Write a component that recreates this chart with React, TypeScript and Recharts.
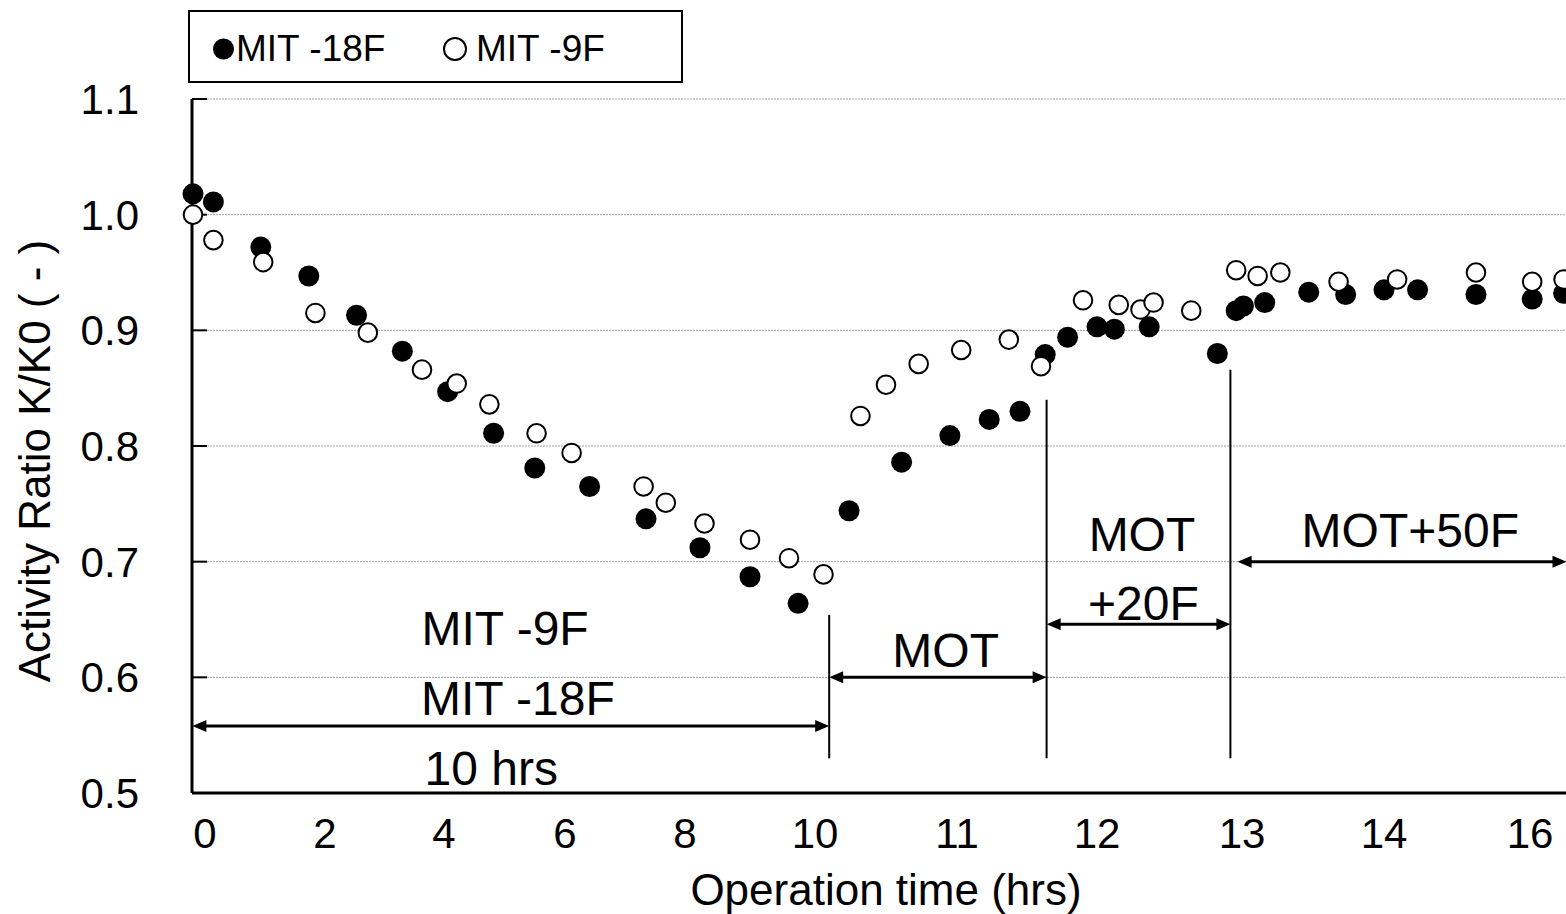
import React from "react"
import {
  ScatterChart,
  Scatter,
  XAxis,
  YAxis,
  CartesianGrid,
  Legend,
  ReferenceLine,
  ReferenceDot,
} from "recharts"

const FONT = '"Liberation Sans", Arial, Helvetica, sans-serif'

// the time axis of the original is not linear: hours at each labelled tick,
// and where that tick sits along the axis (axis units, 0 = left edge)
const TICK_HOURS = [0, 2, 4, 6, 8, 10, 11, 12, 13, 14, 16]
const TICK_SLOTS = [13, 133, 252, 373, 493, 623, 765, 905, 1050, 1192, 1338]
const AXIS_END = 1374

const Y_TICKS = [0.5, 0.6, 0.7, 0.8, 0.9, 1.0, 1.1]

// MIT -18F (filled)
const MIT18_HOURS = [
  -0.2, 0.14, 0.93, 1.73, 2.53, 3.3, 4.06, 4.82, 5.5, 6.41, 7.35, 8.23, 9.0, 9.74,
  10.24, 10.61, 10.95, 11.23, 11.45, 11.63, 11.79, 12.0, 12.12, 12.36, 12.83, 12.96,
  13.01, 13.16, 13.47, 13.73, 14.0, 14.46, 15.26, 16.03, 16.46,
]
const MIT18_RATIO = [
  1.018, 1.011, 0.972, 0.947, 0.913, 0.882, 0.847, 0.811, 0.781, 0.765, 0.737, 0.712,
  0.687, 0.664, 0.744, 0.786, 0.809, 0.823, 0.83, 0.879, 0.894, 0.903, 0.901, 0.903,
  0.88, 0.917, 0.921, 0.924, 0.933, 0.931, 0.935, 0.935, 0.931, 0.927, 0.932,
]

// MIT -9F (open)
const MIT9_HOURS = [
  -0.2, 0.14, 0.97, 1.84, 2.72, 3.63, 4.21, 4.75, 5.53, 6.11, 7.31, 7.68, 8.3, 9.0,
  9.6, 10.06, 10.32, 10.5, 10.73, 11.03, 11.37, 11.6, 11.9, 12.15, 12.3, 12.39, 12.65,
  12.96, 13.11, 13.27, 13.68, 14.18, 15.26, 16.03, 16.46,
]
const MIT9_RATIO = [
  1.0, 0.978, 0.959, 0.915, 0.898, 0.866, 0.854, 0.836, 0.811, 0.794, 0.765, 0.751,
  0.733, 0.719, 0.703, 0.689, 0.826, 0.853, 0.871, 0.883, 0.892, 0.869, 0.926, 0.922,
  0.918, 0.924, 0.917, 0.952, 0.947, 0.95, 0.942, 0.944, 0.95, 0.942, 0.944,
]

// phase boundaries
const DIVIDER_HOURS = [10.1, 11.64, 12.92]
const DIVIDER_TOP = [0.654, 0.84, 0.866]
const DIVIDER_BOTTOM = 0.53

// double arrows
const ARROW_FROM = [-0.21, 10.1, 11.64, 12.97]
const ARROW_TO = [10.1, 11.64, 12.92, 16.5]
const ARROW_RATIO = [0.558, 0.6, 0.646, 0.7]

// text notes
const NOTE_TEXT = ["MIT -9F", "MIT -18F", "10 hrs", "MOT", "MOT", "+20F", "MOT+50F"]
const NOTE_HOURS = [5.01, 5.22, 4.78, 10.92, 12.31, 12.32, 14.36]
const NOTE_RATIO = [0.643, 0.582, 0.522, 0.624, 0.724, 0.664, 0.727]

function toAxis(h: number) {
  let i = 0
  while (i < TICK_HOURS.length - 2 && h > TICK_HOURS[i + 1]) i++
  const t = (h - TICK_HOURS[i]) / (TICK_HOURS[i + 1] - TICK_HOURS[i])
  return TICK_SLOTS[i] + t * (TICK_SLOTS[i + 1] - TICK_SLOTS[i])
}

const mit18 = MIT18_HOURS.map((h, i) => ({ pos: toAxis(h), ratio: MIT18_RATIO[i] }))
const mit9 = MIT9_HOURS.map((h, i) => ({ pos: toAxis(h), ratio: MIT9_RATIO[i] }))

const FilledDot = (p: any) => <circle cx={p.cx} cy={p.cy} r={10.5} fill="#000" />
const OpenDot = (p: any) => (
  <circle cx={p.cx} cy={p.cy} r={9.3} fill="#fff" stroke="#000" strokeWidth={2} />
)

function DoubleArrow(props: any) {
  const { x1, y1, x2, y2 } = props
  const head = 14
  const half = 6
  return (
    <g>
      <line x1={x1 + head - 1} y1={y1} x2={x2 - head + 1} y2={y2} stroke="#000" strokeWidth={3} />
      <polygon points={`${x1},${y1} ${x1 + head},${y1 - half} ${x1 + head},${y1 + half}`} fill="#000" />
      <polygon points={`${x2},${y2} ${x2 - head},${y2 - half} ${x2 - head},${y2 + half}`} fill="#000" />
    </g>
  )
}

function YTitle({ viewBox }: any) {
  const vb = viewBox ?? { x: 0, y: 99, width: 192, height: 694 }
  const x = vb.x + 50
  const y = vb.y + vb.height / 2 + 15
  return (
    <text
      x={x}
      y={y}
      transform={`rotate(-90, ${x}, ${y})`}
      textAnchor="middle"
      fontSize={44}
      fill="#000"
    >
      Activity Ratio K/K0 ( - )
    </text>
  )
}

const LEGEND_LEFT = [23, 253]

function LegendBox({ payload }: any) {
  return (
    <div
      style={{
        position: "relative",
        boxSizing: "border-box",
        width: 495,
        height: 73,
        border: "2px solid #000",
        background: "#fff",
        fontSize: 37,
        color: "#000",
        fontFamily: FONT,
      }}
    >
      {(payload || []).map((entry: any, i: number) => (
        <div
          key={entry.value}
          style={{
            position: "absolute",
            left: LEGEND_LEFT[i],
            top: 2,
            height: "100%",
            display: "flex",
            alignItems: "center",
            whiteSpace: "nowrap",
          }}
        >
          {i === 0 ? (
            <svg width={23} height={24} style={{ display: "block" }}>
              <circle cx={10.5} cy={12} r={10.5} fill="#000" />
            </svg>
          ) : (
            <svg width={33} height={26} style={{ display: "block" }}>
              <circle cx={12} cy={13} r={11} fill="#fff" stroke="#000" strokeWidth={2} />
            </svg>
          )}
          <span>{entry.value}</span>
        </div>
      ))}
    </div>
  )
}

export default function App() {
  return (
    <div
      style={{
        position: "absolute",
        left: 0,
        top: 0,
        width: 1566,
        height: 914,
        overflow: "hidden",
        background: "#fff",
        fontFamily: FONT,
      }}
    >
      <ScatterChart width={1566} height={914} margin={{ top: 99, right: 0, bottom: 0, left: 0 }}>
        <CartesianGrid horizontal vertical={false} stroke="#a0a0a0" strokeDasharray="2 1" />
        <XAxis
          type="number"
          dataKey="pos"
          domain={[0, AXIS_END]}
          ticks={TICK_SLOTS}
          interval={0}
          tickFormatter={(v: number) => String(TICK_HOURS[TICK_SLOTS.indexOf(v)])}
          tick={{ fontSize: 42, fill: "#000" }}
          tickLine={false}
          tickSize={0}
          tickMargin={25}
          axisLine={{ stroke: "#000", strokeWidth: 3 }}
          height={121}
          label={{ value: "Operation time (hrs)", position: "insideBottom", offset: 9, dx: 7, fontSize: 44, fill: "#000" }}
        />
        <YAxis
          type="number"
          dataKey="ratio"
          domain={[0.5, 1.1]}
          ticks={Y_TICKS}
          interval={0}
          tickFormatter={(v: number) => v.toFixed(1)}
          tick={{ fontSize: 42, fill: "#000" }}
          tickSize={-15}
          tickMargin={68}
          tickLine={{ stroke: "#000", strokeWidth: 2 }}
          axisLine={{ stroke: "#000", strokeWidth: 3 }}
          width={192}
          label={<YTitle />}
        />
        <Legend
          layout="horizontal"
          verticalAlign="middle"
          align="center"
          wrapperStyle={{ left: 188, top: 10, width: 495, height: 73 }}
          content={<LegendBox />}
        />
        <Scatter name="MIT -18F" data={mit18} shape={FilledDot} isAnimationActive={false} />
        <Scatter name="MIT -9F" data={mit9} shape={OpenDot} isAnimationActive={false} />
        {DIVIDER_HOURS.map((h, i) => (
          <ReferenceLine
            key={`div-${i}`}
            segment={[
              { x: toAxis(h), y: DIVIDER_TOP[i] },
              { x: toAxis(h), y: DIVIDER_BOTTOM },
            ]}
            stroke="#000"
            strokeWidth={2}
            ifOverflow="visible"
          />
        ))}
        {ARROW_FROM.map((h, i) => (
          <ReferenceLine
            key={`arrow-${i}`}
            segment={[
              { x: toAxis(h), y: ARROW_RATIO[i] },
              { x: toAxis(ARROW_TO[i]), y: ARROW_RATIO[i] },
            ]}
            shape={DoubleArrow}
            ifOverflow="visible"
          />
        ))}
        {NOTE_TEXT.map((t, i) => (
          <ReferenceDot
            key={`note-${i}`}
            x={toAxis(NOTE_HOURS[i])}
            y={NOTE_RATIO[i]}
            r={0}
            fill="none"
            stroke="none"
            ifOverflow="visible"
            label={{ value: t, position: "center", fontSize: 48, fill: "#000" }}
          />
        ))}
      </ScatterChart>
    </div>
  )
}
